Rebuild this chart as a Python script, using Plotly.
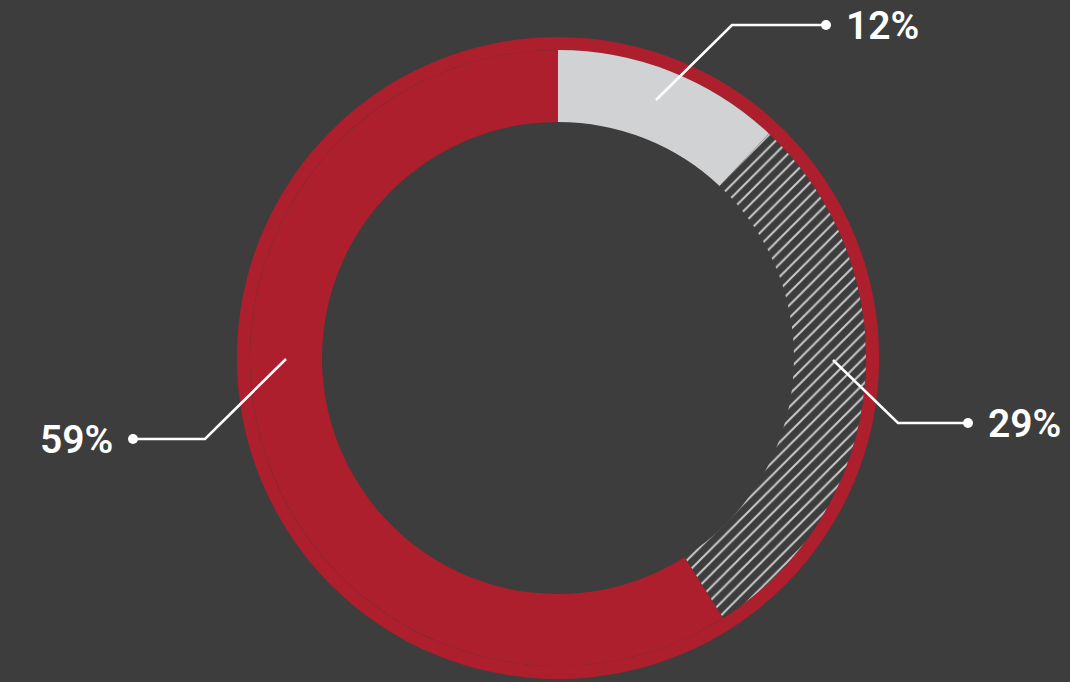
import plotly.graph_objects as go

W, H = 1070, 682

# Data
categories = ["Segment A", "Segment B", "Segment C"]
values = [12, 29, 59]
labels_text = ["12%", "29%", "59%"]

# Style
BG = "#3d3d3d"
RED = "#ad1f2c"
GRAY = "#d1d2d4"
HATCH = "#c9c9cb"

# Geometry (pixels)
CX, CY = 558, 358
R_OUT, R_RING_IN, R_IN = 321, 308, 236

def dom(r):
    return dict(x=[(CX - r) / W, (CX + r) / W],
                y=[(H - (CY + r)) / H, (H - (CY - r)) / H])

fig = go.Figure()

# Outer thin red ring
fig.add_trace(go.Pie(
    values=[1], labels=["ring"], hole=R_RING_IN / R_OUT, domain=dom(R_OUT),
    marker=dict(colors=[RED], line=dict(width=0)), sort=False,
    textinfo="none", hoverinfo="skip", showlegend=False,
))

# Inner donut
fig.add_trace(go.Pie(
    values=values, labels=categories, hole=R_IN / R_RING_IN, domain=dom(R_RING_IN),
    sort=False, direction="clockwise", rotation=0,
    marker=dict(colors=[GRAY, BG, RED], line=dict(width=0),
                pattern=dict(shape=["", "/", ""], fgcolor=HATCH, bgcolor=BG,
                             size=9, solidity=0.22, fillmode="replace")),
    textinfo="none", hoverinfo="skip", showlegend=False,
))

# Leader lines: (start, elbow, end-dot), text anchor side
leaders = [
    ((656, 100), (732, 25), (826, 25), "left"),
    ((833, 360), (898, 423), (968, 423), "left"),
    ((286, 359), (205, 439), (133, 439), "right"),
]

def px(x):
    return x / W

def py(y):
    return (H - y) / H

shapes = []
annotations = []
for (p0, p1, p2, side), txt in zip(leaders, labels_text):
    path = f"M {px(p0[0])},{py(p0[1])} L {px(p1[0])},{py(p1[1])} L {px(p2[0])},{py(p2[1])}"
    shapes.append(dict(type="path", xref="paper", yref="paper", path=path,
                       line=dict(color="white", width=2.5), layer="above"))
    r = 5
    shapes.append(dict(type="circle", xref="paper", yref="paper",
                       x0=px(p2[0] - r), x1=px(p2[0] + r),
                       y0=py(p2[1] + r), y1=py(p2[1] - r),
                       fillcolor="white", line=dict(width=0), layer="above"))
    off = 18 if side == "left" else -18
    annotations.append(dict(x=px(p2[0] + off), y=py(p2[1] + 1), xref="paper", yref="paper",
                            text=txt, showarrow=False, xanchor=side, yanchor="middle",
                            font=dict(family="Roboto", size=39, color="white", weight=600)))

fig.update_layout(
    width=W, height=H,
    paper_bgcolor=BG, plot_bgcolor=BG,
    margin=dict(l=0, r=0, t=0, b=0),
    shapes=shapes, annotations=annotations,
    showlegend=False,
)

fig.write_html("out.html",
               config={"displayModeBar": False, "staticPlot": True},
               post_script="document.body.style.margin='0';document.body.style.background='#3d3d3d';document.body.style.overflow='hidden';")
